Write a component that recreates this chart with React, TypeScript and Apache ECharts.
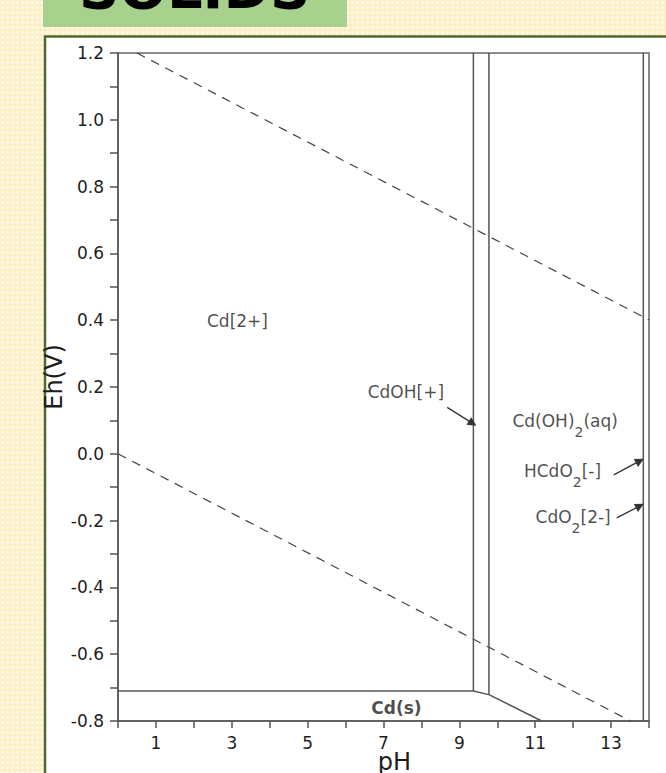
import React, { useEffect, useRef } from "react";
import * as echarts from "echarts";

// Axis ranges and tick steps
const phRange = [0, 14];
const ehRange = [-0.8, 1.2];
const phStep = 1;
const ehStep = 0.1;

// Water stability limits (dashed)
const upperWater = [[0.5, 1.2], [14, 0.401]];
const lowerWater = [[0, 0], [13.51, -0.8]];

// Field boundaries (solid)
const cdSolidBoundary = [[0, -0.71], [9.37, -0.71], [9.78, -0.721], [11.17, -0.8]];
const cdohLeft = [[9.37, 1.2], [9.37, -0.71]];
const cdohRight = [[9.78, 1.2], [9.78, -0.721]];
const hcdo2Edge = [[13.85, 1.2], [13.85, -0.8]];

// Species labels: parts at odd indices are subscripts
const labelParts = [
  ["Cd[2+]"],
  ["CdOH[+]"],
  ["Cd(OH)", "2", "(aq)"],
  ["HCdO", "2", "[-]"],
  ["CdO", "2", "[2-]"],
  ["Cd(s)"],
];
const labelPh = [3.15, 7.59, 11.79, 11.72, 12.0, 7.34];
const labelEh = [0.393, 0.182, 0.093, -0.057, -0.194, -0.765];
const labelBold = [false, false, false, false, false, true];

// Pointer arrows [from, to]
const arrowLines = [
  [[8.68, 0.139], [9.35, 0.091]],
  [[13.07, -0.063], [13.76, -0.021]],
  [[13.15, -0.192], [13.76, -0.156]],
];

const LINE = "#555";
const TEXT = "#1e1e1e";
const FONT = "DejaVu Sans, Verdana, sans-serif";

export default function App() {
  const ref = useRef<HTMLDivElement>(null);

  useEffect(() => {
    if (!ref.current) return;
    const chart = echarts.init(ref.current, undefined, { renderer: "svg" });

    const solidLine = (data: number[][], name: string) => ({
      type: "line",
      name,
      data,
      symbol: "none",
      showSymbol: false,
      silent: true,
      lineStyle: { color: LINE, width: 1.5 },
      z: 3,
    });
    const dashedLine = (data: number[][], name: string) => ({
      type: "line",
      name,
      data,
      symbol: "none",
      showSymbol: false,
      silent: true,
      lineStyle: { color: "#444", width: 1.2, type: [9, 7] },
      z: 3,
    });

    const labelData = labelParts.map((parts, i) => {
      const style = labelBold[i] ? "b" : "a";
      const text = parts
        .map((p, j) => (j % 2 === 1 ? `{s|${p}}` : `{${style}|${p}}`))
        .join("");
      return { value: [labelPh[i], labelEh[i]], text };
    });

    const option = {
      animation: false,
      backgroundColor: "transparent",
      grid: {
        left: 118,
        right: 17,
        top: 53,
        bottom: 52,
        show: true,
        borderColor: "#666",
        borderWidth: 1.5,
        backgroundColor: "#fff",
        containLabel: false,
        outerBoundsMode: "none",
      },
      graphic: [
        {
          type: "rect",
          shape: { x: 43, y: 0, width: 304, height: 27 },
          style: { fill: "#a9d18e" },
          z: 0,
          silent: true,
        },
        {
          type: "text",
          x: 79,
          y: -12,
          style: {
            text: "SOLIDS",
            fill: "#000",
            font: "900 56px 'DejaVu Sans', sans-serif",
            verticalAlign: "middle",
            align: "left",
          },
          z: 1,
          silent: true,
        },
        {
          type: "rect",
          shape: { x: 45, y: 36.5, width: 700, height: 800 },
          style: { fill: "#fff", stroke: "#4f6a2a", lineWidth: 2.5 },
          z: -10,
          silent: true,
        },
      ],
      xAxis: {
        type: "value",
        min: phRange[0],
        max: phRange[1],
        interval: phStep,
        name: "pH",
        nameLocation: "middle",
        nameGap: 29,
        nameMoveOverlap: false,
        nameTextStyle: { fontSize: 24, color: TEXT, fontFamily: FONT, padding: [0, 0, 0, 22] },
        axisLine: { onZero: false, lineStyle: { color: LINE, width: 1.5 } },
        axisTick: { show: true, length: 7, lineStyle: { color: LINE, width: 1.5 } },
        axisLabel: {
          margin: 13,
          fontSize: 17,
          color: TEXT,
          fontFamily: FONT,
          formatter: (v: number) => (Math.round(v) % 2 === 1 ? String(Math.round(v)) : ""),
        },
        splitLine: { show: false },
      },
      yAxis: {
        type: "value",
        min: ehRange[0],
        max: ehRange[1],
        interval: ehStep,
        name: "Eh(V)",
        nameLocation: "middle",
        nameRotate: 90,
        nameGap: 52,
        nameMoveOverlap: false,
        nameTextStyle: { fontSize: 24, color: TEXT, fontFamily: FONT, padding: [0, 0, 0, 20] },
        axisLine: { onZero: false, lineStyle: { color: LINE, width: 1.5 } },
        axisTick: { show: true, length: 8, lineStyle: { color: LINE, width: 1.5 } },
        axisLabel: {
          margin: 14,
          fontSize: 17,
          color: TEXT,
          fontFamily: FONT,
          formatter: (v: number) => {
            const t = Math.round(v * 10);
            return t % 2 === 0 ? (t / 10).toFixed(1) : "";
          },
        },
        splitLine: { show: false },
      },
      series: [
        dashedLine(upperWater, "upper water"),
        dashedLine(lowerWater, "lower water"),
        solidLine(cdSolidBoundary, "Cd(s)"),
        solidLine(cdohLeft, "CdOH left"),
        solidLine(cdohRight, "CdOH right"),
        solidLine(hcdo2Edge, "HCdO2 edge"),
        {
          type: "line",
          name: "arrows",
          data: [],
          silent: true,
          markLine: {
            silent: true,
            animation: false,
            symbol: ["none", "triangle"],
            symbolSize: 9,
            label: { show: false },
            lineStyle: { color: "#333", width: 1.3, type: "solid" },
            emphasis: { disabled: true },
            data: arrowLines.map(([a, b]) => [{ coord: a }, { coord: b }]),
          },
        },
        {
          type: "scatter",
          name: "labels",
          data: labelData,
          symbolSize: 0,
          silent: true,
          z: 5,
          label: {
            show: true,
            position: "inside",
            align: "center",
            verticalAlign: "middle",
            formatter: (p: any) => p.data.text,
            rich: {
              a: { fontSize: 17, lineHeight: 20, verticalAlign: "top", color: TEXT, fontFamily: FONT },
              b: {
                fontSize: 17,
                lineHeight: 20,
                verticalAlign: "top",
                color: TEXT,
                fontFamily: FONT,
                fontWeight: "bold",
              },
              s: {
                fontSize: 14,
                lineHeight: 14,
                padding: [12, 0, 0, 0],
                verticalAlign: "top",
                color: TEXT,
                fontFamily: FONT,
              },
            },
          },
        },
      ],
    };

    chart.setOption(option as any);
    return () => chart.dispose();
  }, []);

  return (
    <div
      ref={ref}
      style={{
        position: "fixed",
        left: 0,
        top: 0,
        width: 666,
        height: 773,
        backgroundColor: "#fdf0c8",
        backgroundImage: "radial-gradient(circle, #fffaea 1.1px, transparent 1.6px)",
        backgroundSize: "5px 5px",
      }}
    />
  );
}
